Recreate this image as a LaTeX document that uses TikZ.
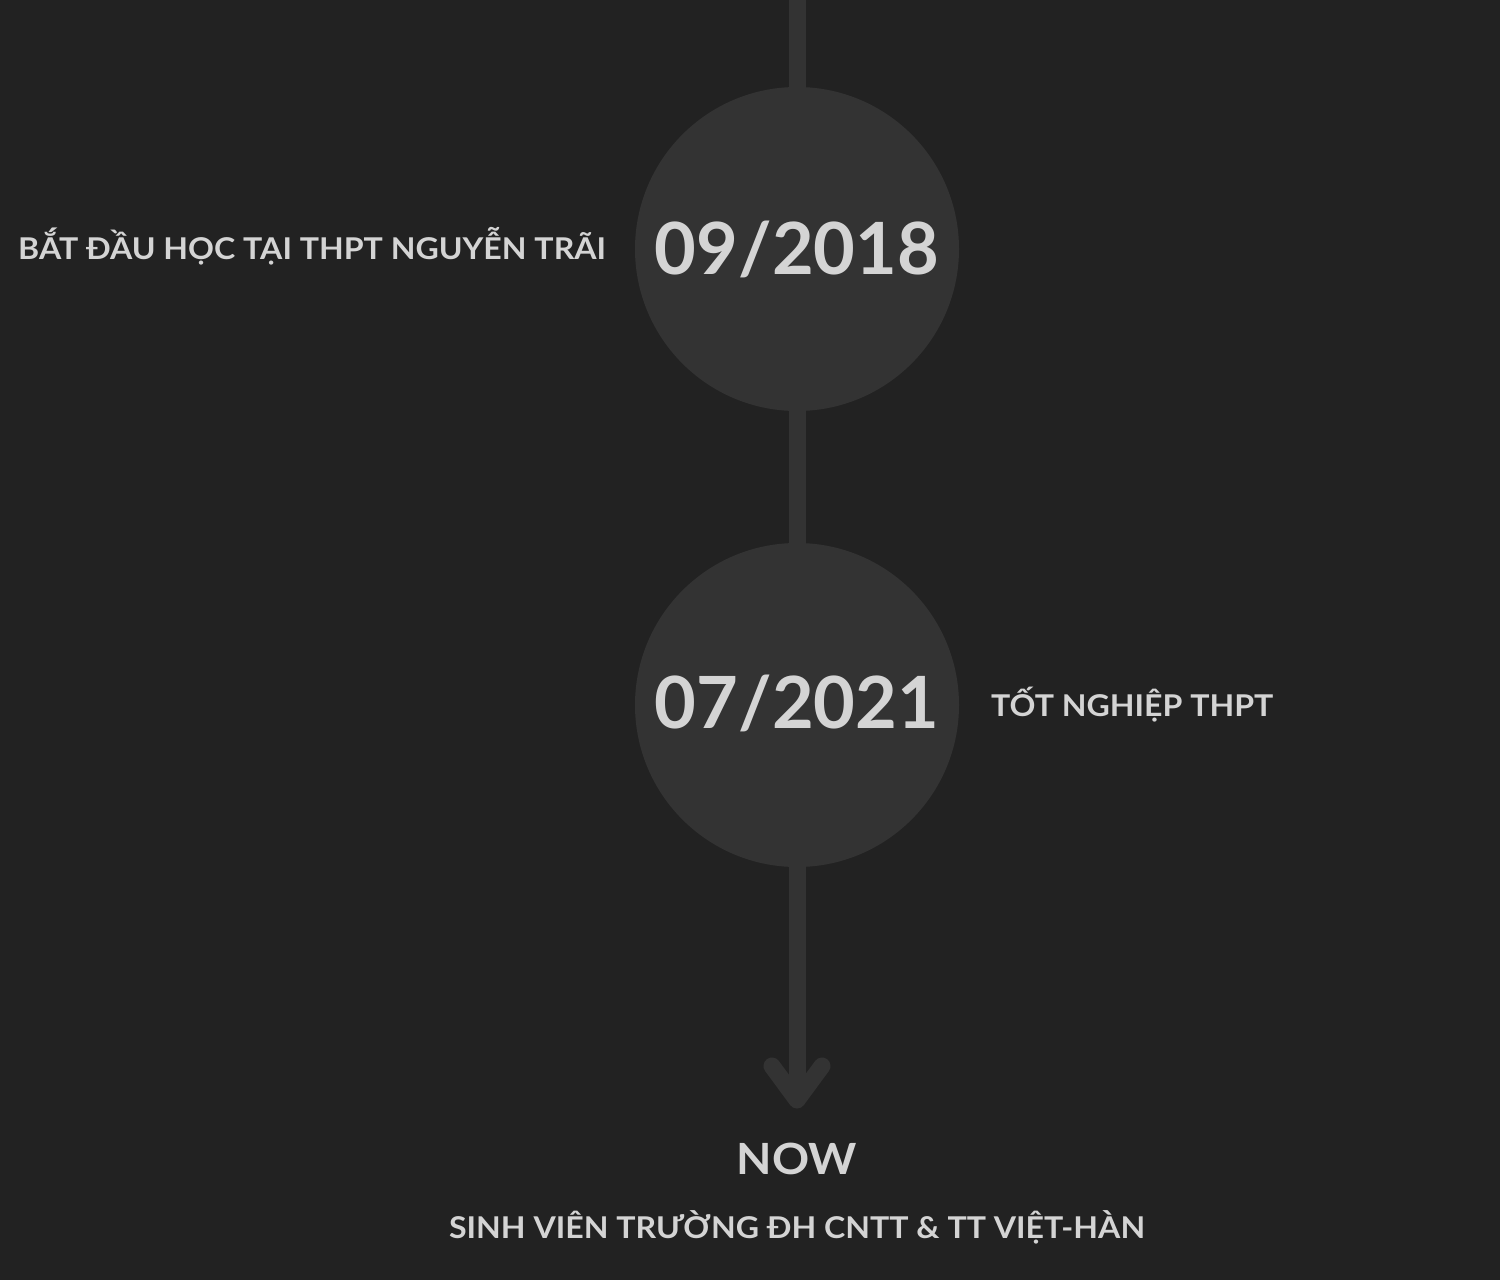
\documentclass[tikz,border=0pt]{standalone}
\usepackage{fontspec}
\setmainfont{Lato}
\definecolor{bgc}{HTML}{222222}
\definecolor{circc}{HTML}{333333}
\definecolor{txtc}{HTML}{D4D4D4}
\newcommand{\wide}[1]{\scalebox{1.07}[1]{#1}}
\begin{document}
\begin{tikzpicture}[x=1pt,y=-1pt,
  dot/.style={circle,fill=circc,minimum size=324pt,inner sep=0pt},
  datelbl/.style={text=txtc,font=\fontsize{72}{80}\selectfont\bfseries,inner sep=0pt},
  lbl/.style={text=txtc,font=\fontsize{30}{36}\selectfont\bfseries,inner sep=0pt},
  spine/.style={draw=circc,line width=17pt}]
\fill[bgc] (0,0) rectangle (1500,1280);
\useasboundingbox (0,0) rectangle (1500,1280);
\coordinate (top) at (797,-10);
\coordinate (tip) at (797,1100);
\coordinate (armL) at (772,1066);
\coordinate (armR) at (822,1066);
\node[dot] (c1) at (797,249) {};
\node[dot] (c2) at (797,705) {};
\draw[spine] (top) -- (c1.north);
\draw[spine] (c1.south) -- (c2.north);
\draw[spine] (c2.south) -- (tip);
\draw[spine,line cap=round,line join=round] (armL) -- (tip) -- (armR);
\node[datelbl] (d1) at (797,249) {09/2018};
\node[datelbl] (d2) at (797,703) {07/2021};
\node[lbl,anchor=west] (t1) at (18,246) {\wide{BẮT ĐẦU HỌC TẠI THPT NGUYỄN TRÃI}};
\node[lbl,anchor=west] (t2) at (991,705) {\wide{TỐT NGHIỆP THPT}};
\node[text=txtc,font=\fontsize{43}{50}\selectfont\bfseries,inner sep=0pt] (now) at (797,1159) {\wide{NOW}};
\node[lbl] (t3) at (797,1227) {\wide{SINH VIÊN TRƯỜNG ĐH CNTT \& TT VIỆT-HÀN}};
\end{tikzpicture}
\end{document}
